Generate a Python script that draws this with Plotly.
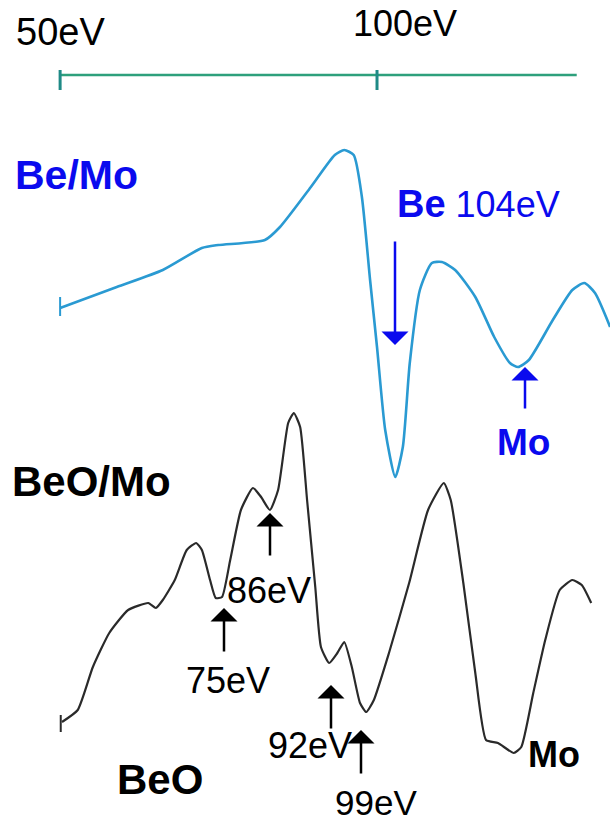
import plotly.graph_objects as go

# ---- data (energy in eV, signal in arbitrary units) ----
scale_energy = [49.7, 131.7]
scale_level = [747, 747]
scale_ticks_eV = [49.7, 100.0]
scale_tick_labels = ["50eV", "100eV"]

be_mo_energy = [49.7, 58.7, 66.0, 72.2, 74.8, 82.2, 84.6, 89.5, 93.3, 94.8, 96.3,
                97.6, 98.9, 100.0, 101.3, 102.9, 104.1, 105.2, 106.8, 108.7, 110.3,
                112.4, 115.6, 118.6, 121.1, 122.4, 124.1, 127.9, 131.0, 132.9, 134.6, 137.0]
be_mo_signal = [514, 535, 552, 574, 577, 582, 595, 635, 667, 672, 667,
                625, 542, 475, 392, 345, 375, 459, 532, 559, 560,
                552, 525, 485, 459, 455, 462, 502, 532, 539, 529, 495]

beo_mo_energy = [50.0, 52.5, 54.9, 57.5, 60.5, 63.7, 64.9, 66.0, 67.9, 69.8, 71.3,
                 72.2, 73.5, 74.4, 75.4, 76.7, 78.4, 80.3, 81.6, 83.0, 84.3, 85.9,
                 86.8, 87.8, 88.9, 90.2, 91.1, 92.4, 93.7, 94.8, 96.0, 97.3, 98.3,
                 99.5, 101.9, 105.1, 108.1, 110.6, 111.7, 113.7, 115.6, 117.3, 119.2,
                 121.7, 122.9, 124.8, 126.7, 129.0, 131.0, 132.5, 134.0]
beo_mo_signal = [100, 112, 155, 189, 212, 219, 214, 222, 242, 272, 279,
                 272, 242, 224, 225, 262, 312, 334, 325, 312, 332, 399,
                 409, 395, 322, 235, 175, 159, 169, 180, 155, 119, 110,
                 122, 169, 239, 312, 339, 322, 239, 149, 82, 79,
                 69, 75, 129, 182, 232, 242, 237, 219]

W, H = 610, 822
X0, X1 = 40.16, 136.98

fig = go.Figure()

# energy scale bar
fig.add_trace(go.Scatter(x=scale_energy, y=scale_level, mode="lines",
                         line=dict(color="#2ea07c", width=2.5), hoverinfo="skip"))
for e in scale_ticks_eV:
    fig.add_trace(go.Scatter(x=[e, e], y=[scale_level[0] + 5, scale_level[0] - 15],
                             mode="lines", line=dict(color="#1f8a86", width=3),
                             hoverinfo="skip"))

# Be/Mo spectrum
fig.add_trace(go.Scatter(x=be_mo_energy, y=be_mo_signal, mode="lines",
                         line=dict(color="#2a9ad2", width=2.6, shape="spline", smoothing=0.6),
                         hoverinfo="skip"))
fig.add_trace(go.Scatter(x=[be_mo_energy[0]] * 2, y=[be_mo_signal[0] + 11, be_mo_signal[0] - 8],
                         mode="lines", line=dict(color="#2a9ad2", width=2), hoverinfo="skip"))

# BeO/Mo spectrum
fig.add_trace(go.Scatter(x=beo_mo_energy, y=beo_mo_signal, mode="lines",
                         line=dict(color="#2a2a2a", width=2.2, shape="spline", smoothing=0.5),
                         hoverinfo="skip"))
fig.add_trace(go.Scatter(x=[beo_mo_energy[0] - 0.2] * 2, y=[beo_mo_signal[0] + 7, beo_mo_signal[0] - 10],
                         mode="lines", line=dict(color="#2a2a2a", width=2), hoverinfo="skip"))

BLUE = "#0a0aee"
ann = []


def txt(t, px, py, size, color="black", bold=False):
    ann.append(dict(text=("<b>%s</b>" % t) if bold else t, x=px / W, y=1 - py / H,
                    xref="paper", yref="paper", xanchor="center", yanchor="middle",
                    showarrow=False,
                    font=dict(family="Liberation Sans, Arial", size=size, color=color)))


def arrow(px, tip_py, tail_py, color, width):
    ann.append(dict(text="", x=px / W, y=1 - tip_py / H, xref="paper", yref="paper",
                    ax=0, ay=tail_py - tip_py, showarrow=True, arrowhead=1,
                    arrowsize=1.8, arrowwidth=width, arrowcolor=color, standoff=0))


txt(scale_tick_labels[0], 60, 32, 38)
txt(scale_tick_labels[1], 405, 24, 36)
txt("Be/Mo", 76, 175, 41, BLUE, True)
ann.append(dict(text="<b>Be</b><span style='font-size:36px'> 104eV</span>",
                x=395 / W, y=1 - 204 / H, xref="paper", yref="paper",
                xanchor="left", yanchor="middle", showarrow=False,
                font=dict(family="Liberation Sans, Arial", size=38, color=BLUE)))
txt("Mo", 523, 443, 37, BLUE, True)
txt("BeO/Mo", 91, 481, 42, "black", True)
txt("BeO", 160, 779, 42, "black", True)
txt("Mo", 554, 754, 36, "black", True)
txt("86eV", 269, 590, 36)
txt("75eV", 228, 680, 36)
txt("92eV", 310, 745, 36)
txt("99eV", 376, 802, 35)

arrow(395, 345, 240, BLUE, 2.5)
arrow(525, 367, 410, BLUE, 2.5)
arrow(270, 513, 557, "black", 2.5)
arrow(224, 608, 653, "black", 2.5)
arrow(331, 685, 730, "black", 2.5)
arrow(361, 730, 775, "black", 2.5)

fig.update_layout(
    width=W, height=H, margin=dict(l=0, r=0, t=0, b=0),
    paper_bgcolor="white", plot_bgcolor="white", showlegend=False,
    xaxis=dict(range=[X0, X1], visible=False, fixedrange=True),
    yaxis=dict(range=[0, H], visible=False, fixedrange=True),
    annotations=ann,
)

fig.write_html("out.html", config={"displayModeBar": False})

# remove the default 8px body margin of the page
with open("out.html", encoding="utf-8") as f:
    page = f.read()
page = page.replace("<head>", "<head><style>html,body{margin:0;padding:0;overflow:hidden}</style>", 1)
with open("out.html", "w", encoding="utf-8") as f:
    f.write(page)
